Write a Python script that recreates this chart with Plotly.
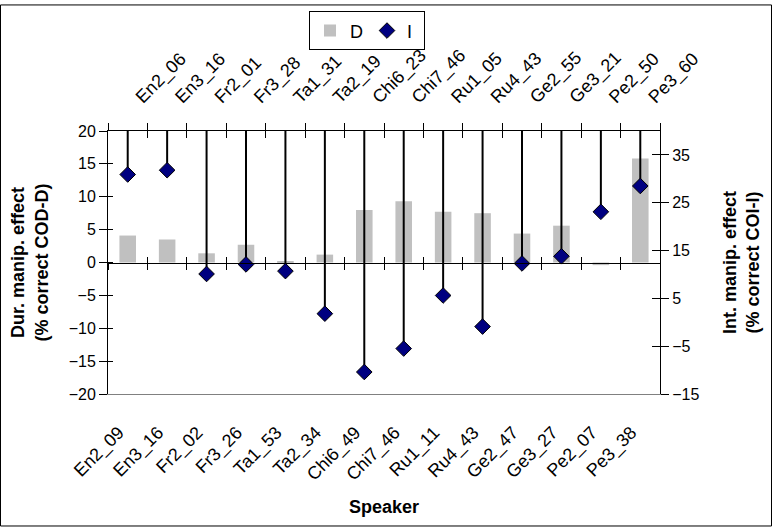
import plotly.graph_objects as go

# Speakers: bottom axis (duration set) and top axis (intensity set)
speakers_d = ["En2_09", "En3_16", "Fr2_02", "Fr3_26", "Ta1_53", "Ta2_34", "Chi6_49",
              "Chi7_46", "Ru1_11", "Ru4_43", "Ge2_47", "Ge3_27", "Pe2_07", "Pe3_38"]
speakers_i = ["En2_06", "En3_16", "Fr2_01", "Fr3_28", "Ta1_31", "Ta2_19", "Chi6_23",
              "Chi7_46", "Ru1_05", "Ru4_43", "Ge2_55", "Ge3_21", "Pe2_50", "Pe3_60"]

# Duration manipulation effect (% correct COD-D), left axis
dur_effect = [4.1, 3.5, 1.4, 2.7, 0.2, 1.2, 8.0, 9.3, 7.7, 7.5, 4.4, 5.6, -0.4, 15.8]
# Intensity manipulation effect (% correct COI-I), right axis
int_effect = [30.9, 31.8, 10.1, 12.1, 10.7, 1.8, -10.4, -5.5, 5.6, -0.9, 12.3, 13.8, 23.1, 28.5]

left_range = [-20, 20]
right_range = [-15, 40]

n = len(speakers_d)
pos = list(range(n))
bounds = [i - 0.5 for i in range(n + 1)]
xr = [-0.5, n - 0.5]

FONT = "Liberation Sans, Arial, sans-serif"
W, H = 772, 528
ML, MR, MT, MB = 108, 112, 128, 134
PW, PH = W - ML - MR, H - MT - MB

fig = go.Figure()

fig.add_trace(go.Bar(
    x=pos, y=dur_effect, name="D", xaxis="x", yaxis="y",
    marker=dict(color="#C0C0C0", line=dict(width=0)), width=0.42,
))

fig.add_trace(go.Scatter(
    x=pos, y=int_effect, name="I", xaxis="x2", yaxis="y2", mode="markers",
    marker=dict(symbol="diamond", size=12, color="#000080",
                line=dict(color="black", width=1)),
    error_y=dict(type="data", symmetric=False,
                 array=[right_range[1] - v for v in int_effect],
                 arrayminus=[0] * n, width=0, thickness=2, color="black"),
))

# Empty traces so the tick-only overlay axes get drawn
for xa, ya in [("x3", "y"), ("x4", "y"), ("x5", "y"), ("x6", "y"), ("x", "y3"), ("x", "y4")]:
    fig.add_trace(go.Scatter(x=[], y=[], xaxis=xa, yaxis=ya, mode="markers",
                             showlegend=False, hoverinfo="skip"))

tick_font = dict(family=FONT, size=16, color="black")
cat_font = dict(family=FONT, size=18, color="black")
zero_pos = (0 - left_range[0]) / (left_range[1] - left_range[0])

common_x = dict(range=xr, showgrid=False, zeroline=False, fixedrange=True)
boundary_ticks = dict(tickmode="array", tickvals=bounds, showticklabels=False,
                      tickcolor="black", tickwidth=1)

fig.update_layout(
    width=W, height=H,
    margin=dict(l=ML, r=MR, t=MT, b=MB),
    paper_bgcolor="white", plot_bgcolor="white",
    font=dict(family=FONT, color="black"),
    barmode="overlay",
    xaxis=dict(**common_x, tickmode="array", tickvals=pos, ticktext=speakers_d,
               tickangle=-45, tickfont=cat_font, ticks="", ticklabelstandoff=20,
               ticklabelshift=-9,
               showline=True, linecolor="#808080", linewidth=1,
               title=dict(text="<b>Speaker</b>", font=dict(size=18), standoff=16)),
    xaxis2=dict(**common_x, overlaying="x", side="top", anchor="y",
                tickmode="array", tickvals=pos, ticktext=speakers_i,
                tickangle=-45, tickfont=cat_font, ticks="", ticklabelstandoff=16,
                ticklabelshift=9,
                showline=True, linecolor="black", linewidth=1),
    xaxis3=dict(**common_x, **boundary_ticks, overlaying="x", side="top", anchor="y",
                ticks="outside", ticklen=7, showline=False),
    xaxis4=dict(**common_x, **boundary_ticks, overlaying="x", side="top", anchor="y",
                ticks="inside", ticklen=7, showline=False),
    xaxis5=dict(**common_x, **boundary_ticks, overlaying="x", anchor="free",
                position=zero_pos, side="bottom", ticks="outside", ticklen=6,
                showline=True, linecolor="black", linewidth=1),
    xaxis6=dict(**common_x, **boundary_ticks, overlaying="x", anchor="free",
                position=zero_pos, side="bottom", ticks="inside", ticklen=6,
                showline=False),
    yaxis=dict(range=left_range, tickmode="linear", tick0=-20, dtick=5,
               ticks="outside", ticklen=8, tickcolor="black", tickfont=tick_font,
               showline=True, linecolor="black", linewidth=1,
               showgrid=False, zeroline=False, fixedrange=True,
               title=dict(text="<b>Dur. manip. effect<br>(% correct COD-D)</b>",
                          font=dict(size=18), standoff=15)),
    yaxis3=dict(range=left_range, tickmode="linear", tick0=-20, dtick=5,
                overlaying="y", side="left", anchor="x",
                ticks="inside", ticklen=5, tickcolor="black", showticklabels=False,
                showline=False, showgrid=False, zeroline=False, fixedrange=True),
    yaxis2=dict(range=right_range, tickmode="linear", tick0=-15, dtick=10,
                overlaying="y", side="right", anchor="x",
                ticks="outside", ticklen=8, tickcolor="black", tickfont=tick_font,
                showline=True, linecolor="black", linewidth=1,
                showgrid=False, zeroline=False, fixedrange=True,
                title=dict(text="<b>Int. manip. effect<br>(% correct COI-I)</b>",
                           font=dict(size=18), standoff=24)),
    yaxis4=dict(range=right_range, tickmode="linear", tick0=-15, dtick=10,
                overlaying="y", side="right", anchor="x",
                ticks="inside", ticklen=8, tickcolor="black", showticklabels=False,
                showline=False, showgrid=False, zeroline=False, fixedrange=True),
    legend=dict(orientation="h", x=(367 - ML) / PW, y=1 + (MT - 7) / PH,
                xanchor="center", yanchor="top", bordercolor="black", borderwidth=1,
                font=dict(size=18), entrywidth=12, itemwidth=30,
                tracegroupgap=0, bgcolor="white"),
    showlegend=True,
)

# Chart-area frame
fig.add_shape(type="rect", xref="paper", yref="paper",
              x0=-(ML - 0.5) / PW, x1=1 + (MR - 0.5) / PW,
              y0=-(MB - 0.5) / PH, y1=1 + (MT - 0.5) / PH,
              line=dict(color="black", width=1), layer="below")

fig.write_html("out.html")
